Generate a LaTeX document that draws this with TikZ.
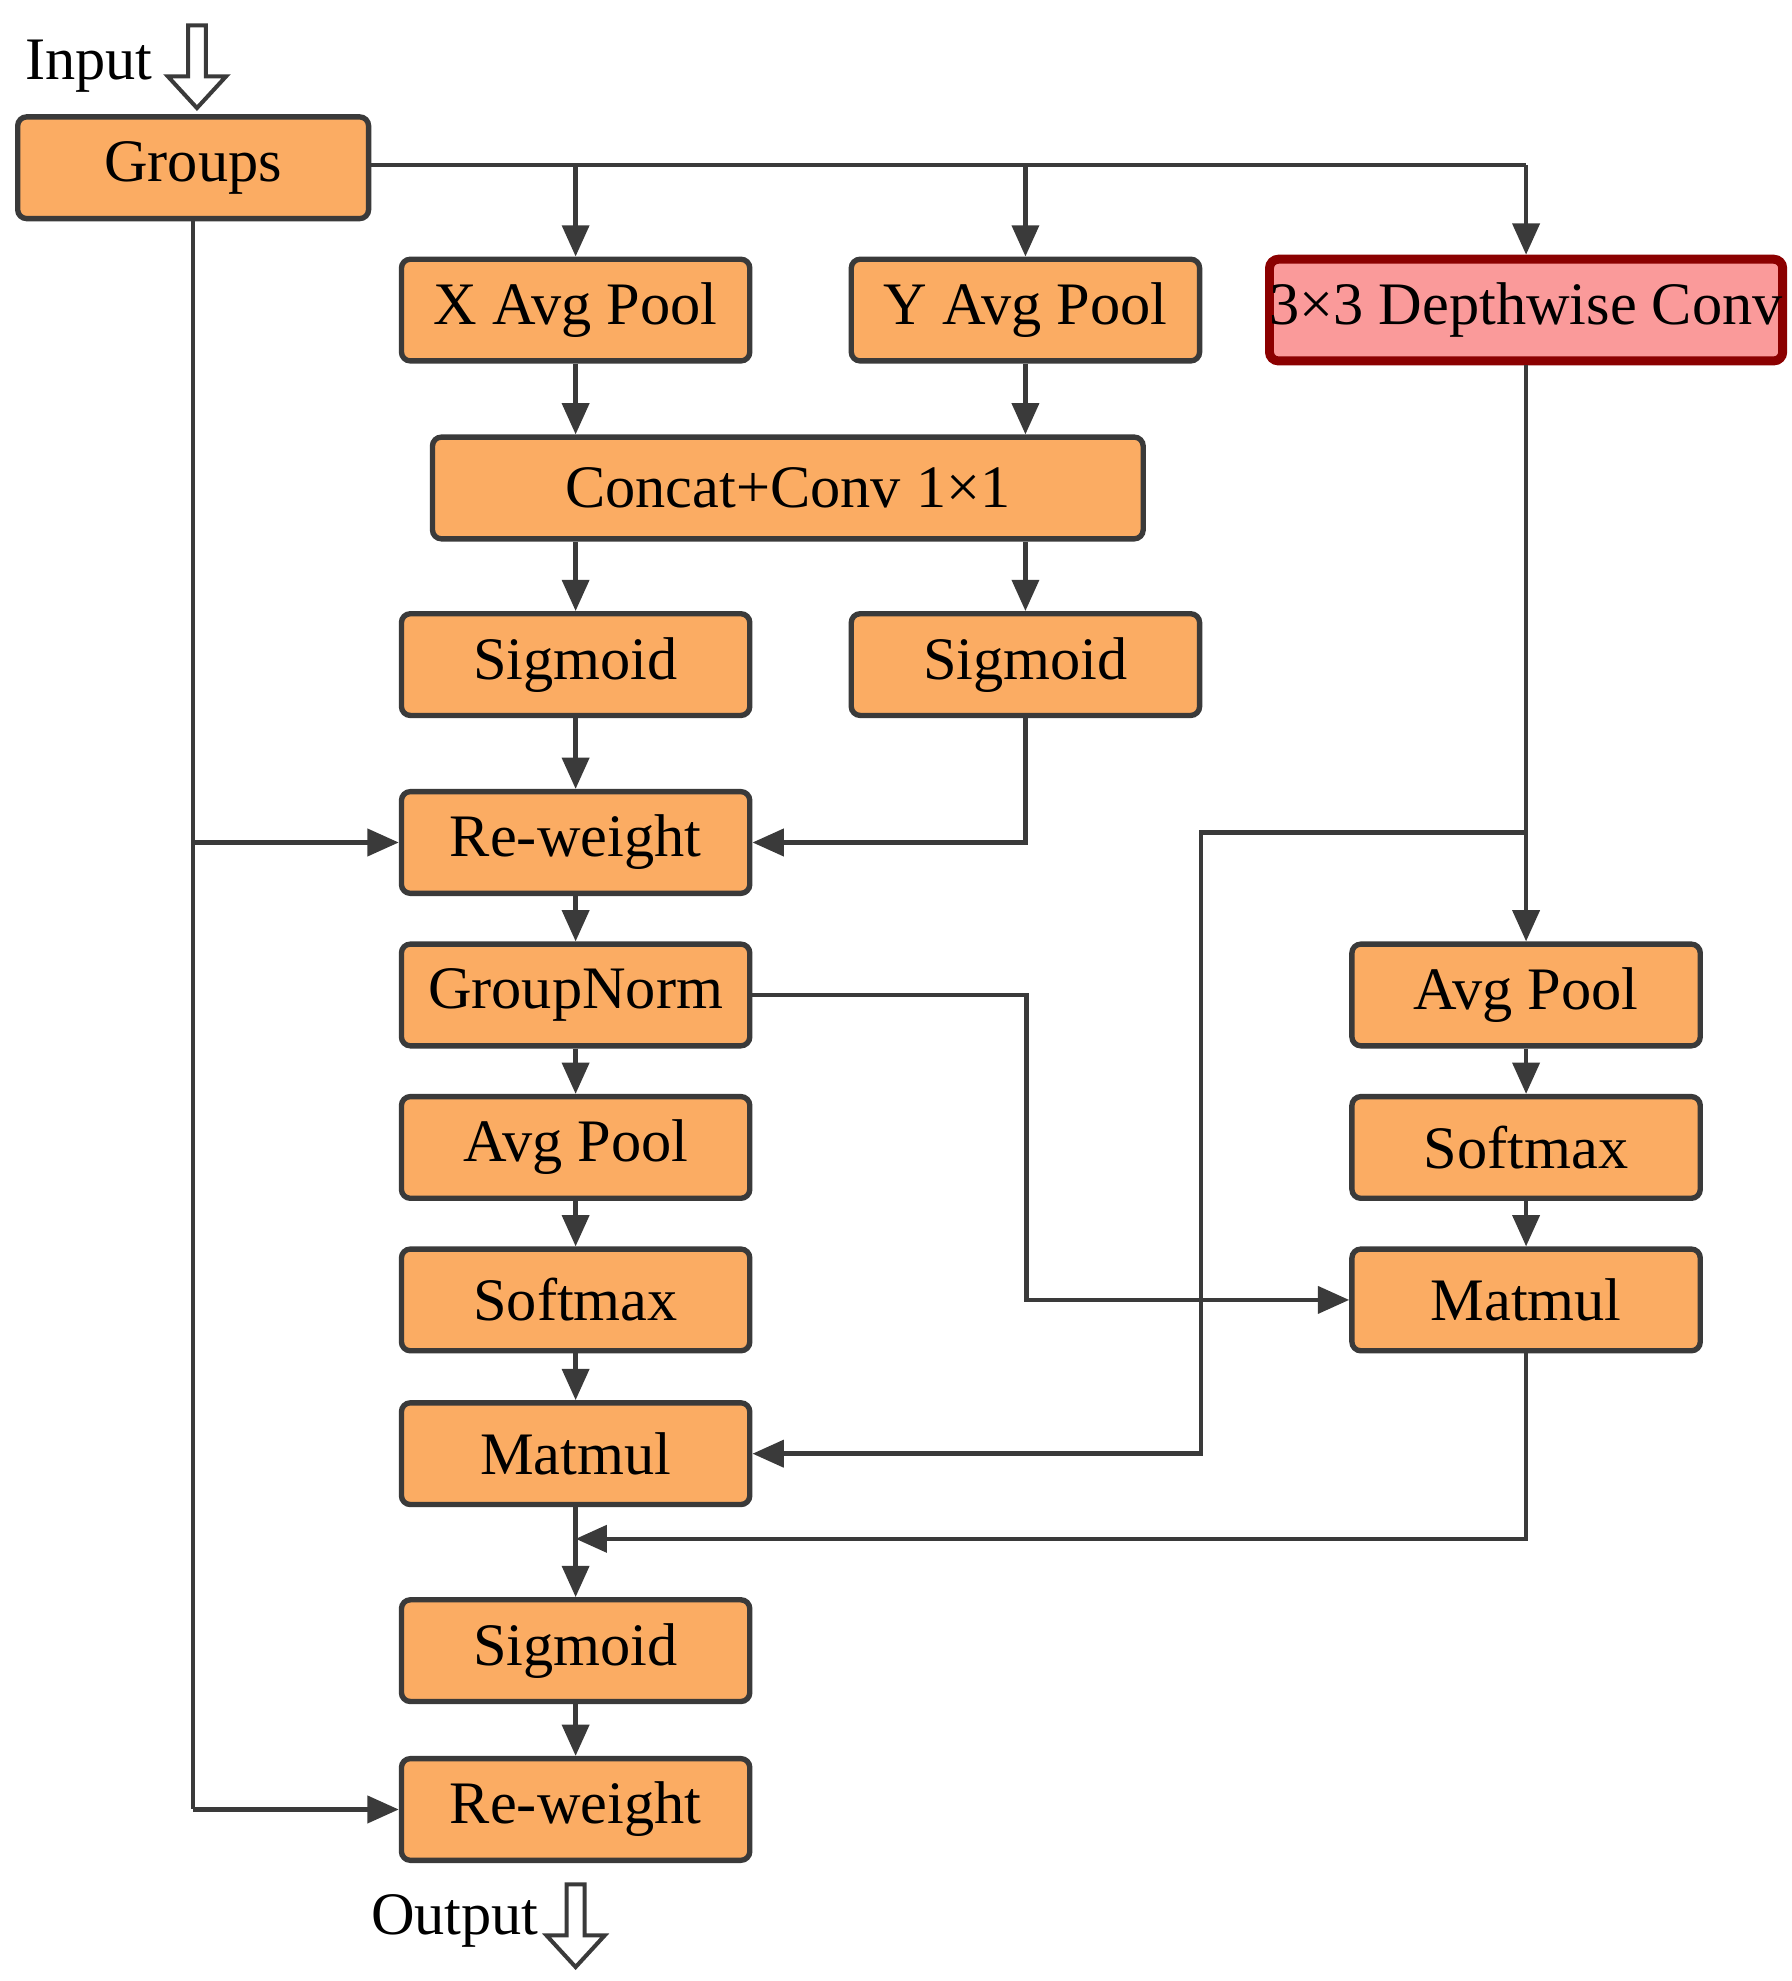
\documentclass[tikz,border=0pt]{standalone}
\usepackage{fontspec}
\setmainfont{Liberation Serif}
\usetikzlibrary{arrows.meta}
\definecolor{boxorange}{HTML}{FBAC63}
\definecolor{boxred}{HTML}{FA9A9A}
\definecolor{darkred}{HTML}{8B0000}
\definecolor{linegray}{HTML}{3A3A3A}

\tikzset{
  blk/.style={draw=linegray, fill=boxorange, line width=1.2pt, rounded corners=2pt,
    minimum width=2.74cm, minimum height=0.8cm, inner sep=0pt,
    font=\fontsize{13.5}{15}\selectfont},
  conv/.style={blk, fill=boxred, draw=darkred, line width=2pt, minimum width=4.0cm},
  flow/.style={draw=linegray, line width=1pt, -{Triangle[length=7pt,width=6pt]}},
  wire/.style={draw=linegray, line width=1pt},
  hollow/.style={draw=linegray, line width=0.9pt, fill=white}
}

\begin{document}
\begin{tikzpicture}[x=0.01cm, y=-0.01cm]
\useasboundingbox (0,0) rectangle (1410,1559);
% left column
\node[blk, minimum width=2.76cm] (groups) at (152,132) {Groups};
\node[blk] (xpool) at (453,244) {X Avg Pool};
\node[blk] (ypool) at (807,244) {Y Avg Pool};
\node[conv] (dwconv) at (1201,244) {3×3 Depthwise Conv};
\node[blk, minimum width=5.59cm] (concat) at (620,384) {Concat+Conv 1×1};
\node[blk] (sigx) at (453,523) {Sigmoid};
\node[blk] (sigy) at (807,523) {Sigmoid};
\node[blk] (rew1) at (453,663) {Re-weight};
\node[blk] (gnorm) at (453,783) {GroupNorm};
\node[blk] (poolL) at (453,903) {Avg Pool};
\node[blk] (softL) at (453,1023) {Softmax};
\node[blk] (matL) at (453,1144) {Matmul};
\node[blk] (sigout) at (453,1299) {Sigmoid};
\node[blk] (rew2) at (453,1424) {Re-weight};
% right column
\node[blk] (poolR) at (1201,783) {Avg Pool};
\node[blk] (softR) at (1201,903) {Softmax};
\node[blk] (matR) at (1201,1023) {Matmul};

% input / output
\node[font=\fontsize{13.5}{15}\selectfont] (input) at (70,52) {Input};
\node[font=\fontsize{13.5}{15}\selectfont] (output) at (358,1512) {Output};
\draw[hollow] (148,20) -- (162,20) -- (162,60) -- (178,60) -- (155,85)
  -- (132,60) -- (148,60) -- cycle;
\draw[hollow] (446,1483) -- (460,1483) -- (460,1523) -- (476,1523) -- (453,1548)
  -- (430,1523) -- (446,1523) -- cycle;

% top bus
\coordinate (bus) at (1201,130);
\draw[wire] (groups.east |- bus) -- (bus);
\draw[flow] (xpool.north |- bus) -- (xpool);
\draw[flow] (ypool.north |- bus) -- (ypool);
\draw[flow] (bus) -- (dwconv);
% skip path
\coordinate (skip) at (152,1424);
\draw[wire] (groups) -- (skip);
\draw[flow] (groups |- rew1) -- (rew1);
\draw[flow] (skip) -- (rew2);
% coordinate attention
\draw[flow] (xpool) -- (xpool |- concat.north);
\draw[flow] (ypool) -- (ypool |- concat.north);
\draw[flow] (sigx |- concat.south) -- (sigx);
\draw[flow] (sigy |- concat.south) -- (sigy);
\draw[flow] (sigx) -- (rew1);
\draw[flow] (sigy) |- (rew1);
% left chain
\draw[flow] (rew1) -- (gnorm);
\draw[flow] (gnorm) -- (poolL);
\draw[flow] (poolL) -- (softL);
\draw[flow] (softL) -- (matL);
\draw[flow] (matL) -- (sigout);
\draw[flow] (sigout) -- (rew2);
% right chain
\coordinate (split) at (1201,655);
\draw[flow] (dwconv) -- (poolR);
\draw[flow] (split) -- (945,655) -- (945,1144) -- (matL);
\draw[flow] (poolR) -- (softR);
\draw[flow] (softR) -- (matR);
\draw[flow] (gnorm) -- (808,783) |- (matR);
\coordinate (merge) at (453,1211);
\draw[flow] (matR) |- (merge);
\end{tikzpicture}
\end{document}
